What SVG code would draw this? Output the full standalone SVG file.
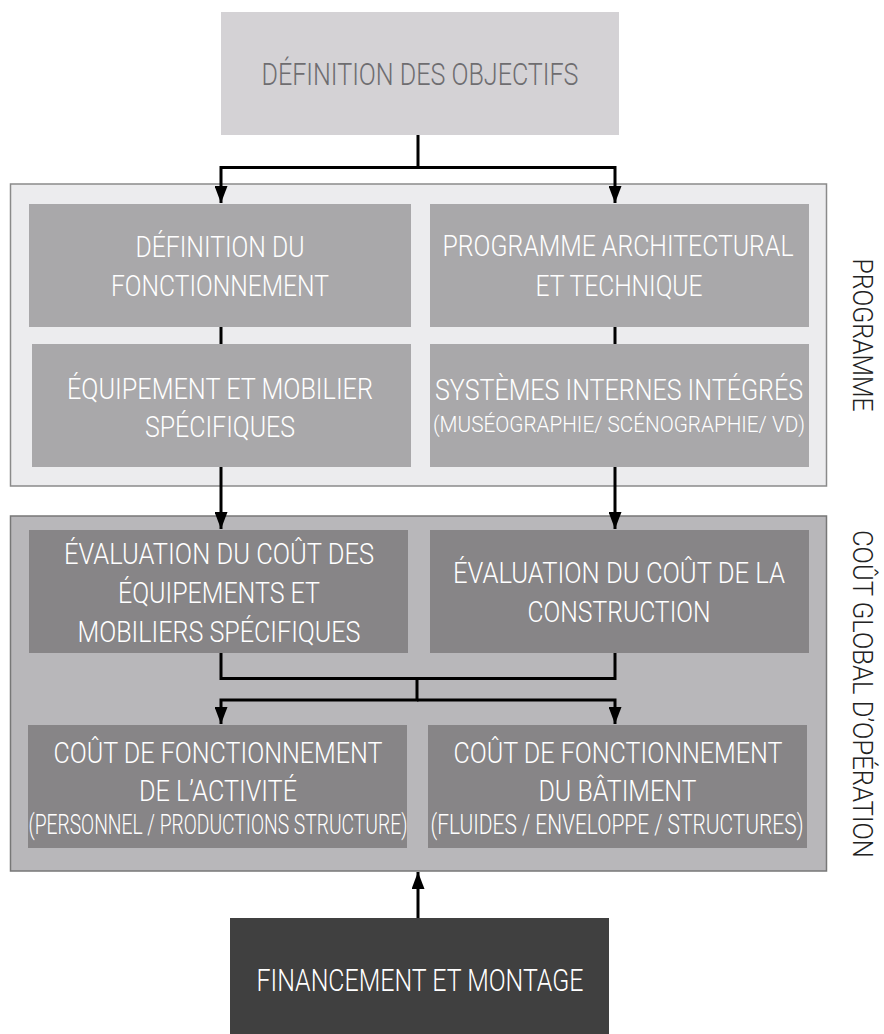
<svg xmlns="http://www.w3.org/2000/svg" width="884" height="1034" viewBox="0 0 884 1034">
<style>
  text { font-family: Roboto, "Liberation Sans", Arial, sans-serif; font-weight: 300; text-anchor: middle; }
  .t28 { font-size: 29px; fill: #ffffff; }
  .t26 { font-size: 27px; fill: #ffffff; }
  .t21 { font-size: 22px; fill: #ffffff; }
  .side { font-size: 27px; fill: #222222; }
  .conn { fill: none; stroke: #000000; stroke-width: 3; }
  .arr { marker-end: url(#ah); }
  .pbox { fill: #a9a8aa; }
  .cbox { fill: #878587; }
</style>
<defs>
  <marker id="ah" markerUnits="userSpaceOnUse" markerWidth="17" markerHeight="13" refX="17" refY="6.5" orient="auto">
    <path d="M0,0 L17,6.5 L0,13 z" fill="#000000"/>
  </marker>
</defs>

<g id="objectifs">
  <rect x="221" y="12" width="398" height="123" fill="#d4d2d5"/>
  <text x="420" y="85" style="font-size:31px;fill:#6e6d70" textLength="317" lengthAdjust="spacingAndGlyphs">DÉFINITION DES OBJECTIFS</text>
</g>

<g id="programme-panel">
  <rect x="10.5" y="184" width="816" height="302" fill="#ececee" stroke="#8a8a8a" stroke-width="1.5"/>
  <text class="side" x="853" y="335" transform="rotate(90 853 335)" textLength="153" lengthAdjust="spacingAndGlyphs">PROGRAMME</text>
</g>

<g id="cout-panel">
  <rect x="10.5" y="516" width="816" height="355" fill="#b8b7ba" stroke="#777777" stroke-width="1.5"/>
  <text class="side" x="853" y="694" transform="rotate(90 853 694)" textLength="328" lengthAdjust="spacingAndGlyphs">COÛT GLOBAL D’OPÉRATION</text>
</g>

<g id="fonctionnement">
  <rect class="pbox" x="29" y="204" width="382" height="123"/>
  <text class="t28" x="220" y="257" textLength="169" lengthAdjust="spacingAndGlyphs">DÉFINITION DU</text>
  <text class="t28" x="220" y="296" textLength="218" lengthAdjust="spacingAndGlyphs">FONCTIONNEMENT</text>
</g>

<g id="programme-archi">
  <rect class="pbox" x="430" y="204" width="379" height="123"/>
  <text class="t28" x="618" y="256" textLength="351" lengthAdjust="spacingAndGlyphs">PROGRAMME ARCHITECTURAL</text>
  <text class="t28" x="619" y="296" textLength="167" lengthAdjust="spacingAndGlyphs">ET TECHNIQUE</text>
</g>

<g id="equipement">
  <rect class="pbox" x="32" y="344" width="379" height="123"/>
  <text class="t28" x="220" y="399" textLength="306" lengthAdjust="spacingAndGlyphs">ÉQUIPEMENT ET MOBILIER</text>
  <text class="t28" x="220" y="437" textLength="150" lengthAdjust="spacingAndGlyphs">SPÉCIFIQUES</text>
</g>

<g id="systemes">
  <rect class="pbox" x="430" y="344" width="379" height="123"/>
  <text class="t28" x="619" y="400" textLength="368" lengthAdjust="spacingAndGlyphs">SYSTÈMES INTERNES INTÉGRÉS</text>
  <text class="t21" x="619" y="432" textLength="372" lengthAdjust="spacingAndGlyphs">(MUSÉOGRAPHIE/ SCÉNOGRAPHIE/ VD)</text>
</g>

<g id="eval-equipements">
  <rect class="cbox" x="29" y="530" width="379" height="123"/>
  <text class="t28" x="219" y="564" textLength="310" lengthAdjust="spacingAndGlyphs">ÉVALUATION DU COÛT DES</text>
  <text class="t28" x="219" y="603" textLength="202" lengthAdjust="spacingAndGlyphs">ÉQUIPEMENTS ET</text>
  <text class="t28" x="219" y="642" textLength="283" lengthAdjust="spacingAndGlyphs">MOBILIERS SPÉCIFIQUES</text>
</g>

<g id="eval-construction">
  <rect class="cbox" x="430" y="530" width="379" height="123"/>
  <text class="t28" x="619" y="583" textLength="332" lengthAdjust="spacingAndGlyphs">ÉVALUATION DU COÛT DE LA</text>
  <text class="t28" x="619" y="622" textLength="183" lengthAdjust="spacingAndGlyphs">CONSTRUCTION</text>
</g>

<g id="cout-activite">
  <rect class="cbox" x="28" y="725" width="379" height="123"/>
  <text class="t28" x="218" y="763" textLength="329" lengthAdjust="spacingAndGlyphs">COÛT DE FONCTIONNEMENT</text>
  <text class="t28" x="218" y="801" textLength="158" lengthAdjust="spacingAndGlyphs">DE L’ACTIVITÉ</text>
  <text class="t26" x="218" y="834" textLength="379" lengthAdjust="spacingAndGlyphs">(PERSONNEL /  PRODUCTIONS STRUCTURE)</text>
</g>

<g id="cout-batiment">
  <rect class="cbox" x="428" y="725" width="379" height="123"/>
  <text class="t28" x="618" y="763" textLength="329" lengthAdjust="spacingAndGlyphs">COÛT DE FONCTIONNEMENT</text>
  <text class="t28" x="617.5" y="801" textLength="158" lengthAdjust="spacingAndGlyphs">DU BÂTIMENT</text>
  <text class="t26" x="617" y="834" textLength="373" lengthAdjust="spacingAndGlyphs">(FLUIDES / ENVELOPPE / STRUCTURES)</text>
</g>

<g id="financement">
  <rect x="230" y="918" width="379" height="116" fill="#404040"/>
  <text class="t28" x="420" y="991" style="font-size:31px" textLength="327" lengthAdjust="spacingAndGlyphs">FINANCEMENT ET MONTAGE</text>
</g>

<g id="connectors">
  <path class="conn arr" d="M418,135 V167.5 H221 V203"/>
  <path class="conn arr" d="M418,167.5 H615 V203"/>
  <path class="conn" d="M221,327 V344"/>
  <path class="conn" d="M615,327 V344"/>
  <path class="conn arr" d="M221,467 V529"/>
  <path class="conn arr" d="M615,467 V529"/>
  <path class="conn" d="M221,653 V678.5 H615 V653"/>
  <path class="conn arr" d="M417,678.5 V700 H221 V724"/>
  <path class="conn arr" d="M417,700 H615 V724"/>
  <path class="conn arr" d="M418,918 V872"/>
</g>
</svg>
